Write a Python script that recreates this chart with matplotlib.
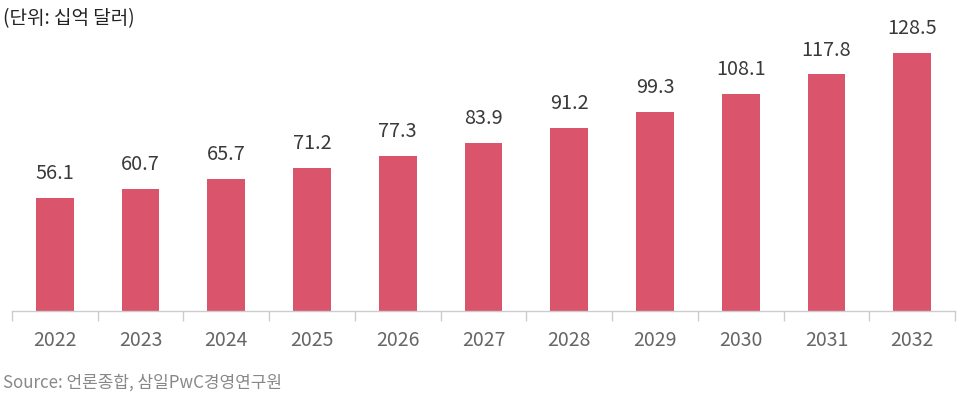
import matplotlib.pyplot as plt
import numpy as np

plt.rcParams['font.family'] = ['Noto Sans CJK KR', 'DejaVu Sans']

years = ['2022', '2023', '2024', '2025', '2026', '2027', '2028', '2029', '2030', '2031', '2032']
values = [56.1, 60.7, 65.7, 71.2, 77.3, 83.9, 91.2, 99.3, 108.1, 117.8, 128.5]

fig = plt.figure(figsize=(9.69, 4.01), dpi=100)
ax = fig.add_axes([12 / 969, 90 / 401, 943 / 969, 311 / 401])

x = np.arange(len(years))
bars = ax.bar(x, values, width=0.44, color='#da546c')

for xi, v in zip(x, values):
    ax.annotate(f'{v:.1f}', (xi, v), xytext=(0, 10), textcoords='offset points',
                ha='center', va='bottom', fontsize=14.3, color='#3a3a3a')

ax.set_xlim(-0.5, len(years) - 0.5)
ax.set_ylim(0, 154.9)
ax.set_xticks(x)
ax.set_xticklabels(years, fontsize=14, color='#666666')
ax.set_xticks(np.arange(-0.5, len(years)), minor=True)
ax.tick_params(axis='x', which='major', length=0, pad=14)
ax.tick_params(axis='x', which='minor', length=7, width=1, color='#cccccc')
ax.set_yticks([])
for s in ['top', 'left', 'right']:
    ax.spines[s].set_visible(False)
ax.spines['bottom'].set_color('#cccccc')
ax.spines['bottom'].set_linewidth(1)

fig.text(3 / 969, 1 - 19 / 401, '(단위: 십억 달러)', fontsize=13.7, color='#222222', va='center', ha='left')
fig.text(3 / 969, 1 - 383 / 401, 'Source: 언론종합, 삼일PwC경영연구원', fontsize=12.2, color='#888888', va='center', ha='left')

fig.savefig('out.png', dpi=100)
